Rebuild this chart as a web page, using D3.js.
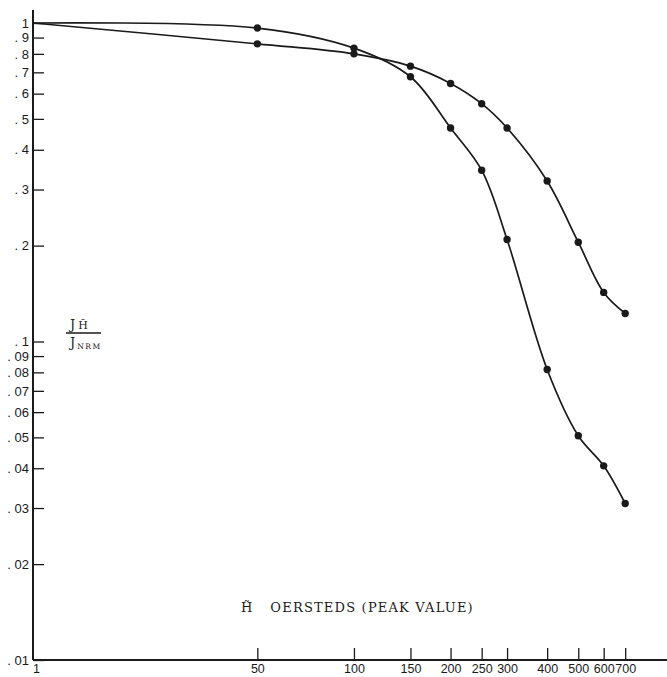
<!DOCTYPE html>
<html>
<head>
<meta charset="utf-8">
<script src="https://cdn.jsdelivr.net/npm/d3@7"></script>
<style>
  body { margin: 0; background: #fff; }
  svg { display: block; font-family: "DejaVu Serif", "Liberation Serif", serif; }
</style>
</head>
<body>
<svg id="chart" width="667" height="677"></svg>
<script>
// field values (oersteds, peak) and normalised ratios
const fieldValues = [1, 50, 100, 150, 200, 250, 300, 400, 500, 600, 700];
const ratioSteep = [1, 0.964, 0.834, 0.678, 0.468, 0.345, 0.209, 0.0817, 0.0506, 0.0407, 0.031];
const ratioGradual = [1, 0.86, 0.80, 0.732, 0.646, 0.558, 0.468, 0.319, 0.205, 0.1426, 0.1225];

const xTicks = [1, 50, 100, 150, 200, 250, 300, 400, 500, 600, 700];
const yTicks = [1, 0.9, 0.8, 0.7, 0.6, 0.5, 0.4, 0.3, 0.2, 0.1, 0.09, 0.08, 0.07, 0.06, 0.05, 0.04, 0.03, 0.02, 0.01];
const yTickLabels = ["1", ". 9", ". 8", ". 7", ". 6", ". 5", ". 4", ". 3", ". 2", ". 1", ". 09", ". 08", ". 07", ". 06", ". 05", ". 04", ". 03", ". 02", ". 01"];

const svg = d3.select("#chart");
const margin = {top: 23, right: 0, bottom: 17, left: 33};
const width = +svg.attr("width");
const height = +svg.attr("height");

// log axis with a broken start: everything below 10 is pinned to the left edge
const x = d3.scaleLog()
    .domain([10, 945])
    .range([margin.left, width - margin.right])
    .clamp(true);

const y = d3.scaleLog()
    .domain([0.01, 1])
    .range([height - margin.bottom, margin.top]);

const ink = "#1a1a1a";

// axes
const xAxis = svg.append("g")
    .attr("transform", `translate(0,${y(0.01)})`)
    .call(d3.axisBottom(x).tickValues(xTicks).tickFormat(d3.format("d"))
        .tickSize(-12).tickPadding(4).tickSizeOuter(0));
xAxis.select(".domain").remove();
xAxis.selectAll(".tick line").attr("stroke", ink).attr("stroke-width", 1.3)
    .filter(d => d === 1).remove();
xAxis.selectAll(".tick text").filter(d => d === 1).attr("dx", 3);

const yAxis = svg.append("g")
    .attr("transform", `translate(${margin.left},0)`)
    .call(d3.axisLeft(y).tickValues(yTicks).tickFormat((d, i) => yTickLabels[i])
        .tickSize(-11).tickPadding(4).tickSizeOuter(0));
yAxis.select(".domain").remove();
yAxis.selectAll(".tick line").attr("stroke", ink).attr("stroke-width", 1.3);

svg.selectAll(".tick text")
    .attr("fill", ink)
    .style("font-size", "13px");
xAxis.selectAll(".tick text").style("font-size", "12.5px");

// axis frame lines
svg.append("line")
    .attr("x1", x.range()[0]).attr("x2", x.range()[1])
    .attr("y1", y(0.01)).attr("y2", y(0.01))
    .attr("stroke", ink).attr("stroke-width", 2);
svg.append("line")
    .attr("x1", margin.left).attr("x2", margin.left)
    .attr("y1", y(1) - 13).attr("y2", y(0.01))
    .attr("stroke", ink).attr("stroke-width", 2);

// curves
const line = d3.line()
    .x(d => x(d[0]))
    .y(d => y(d[1]))
    .curve(d3.curveCatmullRom.alpha(0.5));

const series = [
    fieldValues.map((h, i) => [h, ratioSteep[i]]),
    fieldValues.map((h, i) => [h, ratioGradual[i]])
];

svg.selectAll(".curve")
    .data(series)
    .enter().append("path")
    .attr("class", "curve")
    .attr("fill", "none")
    .attr("stroke", ink)
    .attr("stroke-width", 1.7)
    .attr("d", line);

svg.selectAll(".dots")
    .data(series)
    .enter().append("g")
    .attr("class", "dots")
    .selectAll("circle")
    .data(d => d.slice(1))
    .enter().append("circle")
    .attr("cx", d => x(d[0]))
    .attr("cy", d => y(d[1]))
    .attr("r", 3.7)
    .attr("fill", ink);

// y label as a fraction
const yl = svg.append("g").attr("fill", ink).style("font-size", "13px");
const numer = yl.append("text").attr("x", 70).attr("y", 329);
numer.append("tspan").text("J");
numer.append("tspan").attr("dx", 3).style("font-size", "11px").text("H\u0303");
yl.append("line")
    .attr("x1", 66).attr("x2", 101).attr("y1", 333).attr("y2", 333)
    .attr("stroke", ink).attr("stroke-width", 1.3);
const denom = yl.append("text").attr("x", 70).attr("y", 347);
denom.append("tspan").text("J");
denom.append("tspan").attr("dx", 2).attr("dy", 2).style("font-size", "7.5px")
    .style("letter-spacing", "1.5px").text("NRM");

// x label
const xl = svg.append("text")
    .attr("x", 241).attr("y", 612)
    .attr("fill", ink)
    .style("font-size", "13px");
xl.append("tspan").text("H\u0303");
xl.append("tspan").attr("dx", 18).style("letter-spacing", "1.2px").text("OERSTEDS (PEAK VALUE)");
</script>
</body>
</html>
